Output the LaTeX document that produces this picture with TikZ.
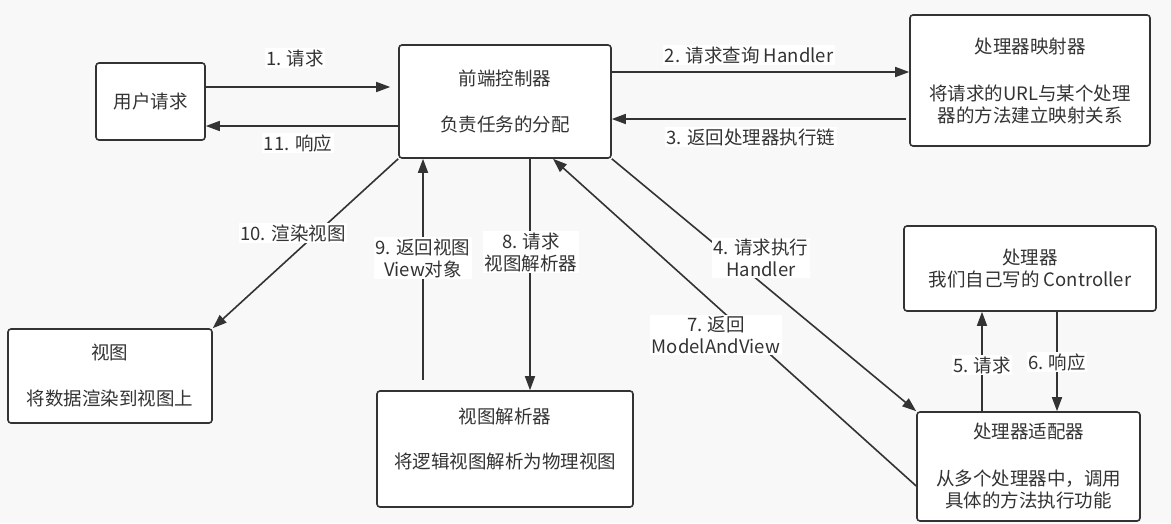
\documentclass[tikz,border=0pt]{standalone}
\usepackage{fontspec}
\setmainfont{Noto Sans CJK SC}
\usetikzlibrary{arrows.meta}
\definecolor{ink}{HTML}{333333}
\definecolor{bg}{HTML}{F8F8F8}
\begin{document}
\begin{tikzpicture}[x=1pt,y=-1pt,
  font=\fontsize{18.5}{22}\selectfont, text=ink,
  box/.style={draw=ink, line width=1.6pt, rounded corners=3pt, fill=white, align=center, inner sep=0pt},
  arr/.style={draw=ink, line width=1.6pt, -{Triangle[length=14pt,width=10pt]}},
  lbl/.style={fill=white, inner sep=1.5pt, align=center}]
\fill[bg] (0,0) rectangle (1171,523);
\useasboundingbox (0,0) rectangle (1171,523);

% boxes
\node[box, minimum width=109pt, minimum height=77pt] (user) at (150.5,101.5) {用户请求};
\node[box, minimum width=212pt, minimum height=113pt] (front) at (505,101.5) {前端控制器\\[24pt]负责任务的分配};
\node[box, minimum width=240pt, minimum height=131pt] (mapper) at (1030,80.5) {处理器映射器\\[25pt]将请求的URL与某个处理\\器的方法建立映射关系};
\node[box, minimum width=204pt, minimum height=94pt] (view) at (110,376) {视图\\[24pt]将数据渲染到视图上};
\node[box, minimum width=256pt, minimum height=116pt] (resolver) at (505,449) {视图解析器\\[23pt]将逻辑视图解析为物理视图\\\mbox{}};
\node[box, minimum width=252pt, minimum height=85pt] (handler) at (1030,268.5) {处理器\\我们自己写的 Controller};
\node[box, minimum width=223pt, minimum height=109pt] (adapter) at (1028.5,466.5) {处理器适配器\\[25pt]从多个处理器中，调用\\具体的方法执行功能};

% helper coordinates
\coordinate (h1) at (0,87);
\coordinate (h11) at (0,126);
\coordinate (h2) at (0,72);
\coordinate (h3) at (0,119);
\coordinate (v7) at (553,0);
\coordinate (v8) at (530,0);
\coordinate (v9) at (423,0);
\coordinate (v5) at (982,0);
\coordinate (v6) at (1057,0);

% connectors
\draw[arr, shorten >=8pt] (user.east |- h1) -- (front.west |- h1);
\draw[arr] (front.west |- h11) -- (user.east |- h11);
\draw[arr] (front.east |- h2) -- (mapper.west |- h2);
\draw[arr] ([xshift=-3pt]mapper.west |- h3) -- (front.east |- h3);
\draw[arr] (front.south east) -- (adapter.north west);
\draw[arr] ([yshift=-19.5pt]adapter.west) -- (front.south -| v7);
\draw[arr] (front.south west) -- (view.north east);
\draw[arr, shorten <=10pt] (resolver.north -| v9) -- (front.south -| v9);
\draw[arr] (front.south -| v8) -- (resolver.north -| v8);
\draw[arr] (adapter.north -| v5) -- (handler.south -| v5);
\draw[arr] (handler.south -| v6) -- (adapter.north -| v6);

% labels
\node[lbl] (l1) at (295,58) {1. 请求};
\node[lbl] (l11) at (298,143) {11. 响应};
\node[lbl] (l2) at (749,55) {2. 请求查询 Handler};
\node[lbl] (l3) at (751,137) {3. 返回处理器执行链};
\node[lbl] (l4) at (761,258) {4. 请求执行\\Handler};
\node[lbl] (l7) at (716,335) {7. 返回\\ModelAndView};
\node[lbl] (l8) at (531,252) {8. 请求\\视图解析器};
\node[lbl] (l9) at (423,258) {9. 返回视图\\View对象};
\node[lbl] (l10) at (293,233) {10. 渲染视图};
\node[lbl] (l5) at (982,365) {5. 请求};
\node[lbl] (l6) at (1057,362) {6. 响应};
\end{tikzpicture}
\end{document}
